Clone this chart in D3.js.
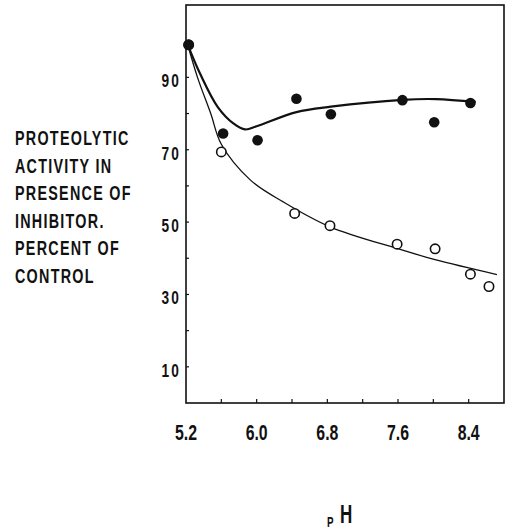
<!DOCTYPE html>
<html>
<head>
<meta charset="utf-8">
<script src="https://cdn.jsdelivr.net/npm/d3@7"></script>
<style>
  body { margin: 0; background: #fff; }
  svg text { font-family: "Liberation Sans", Arial, sans-serif; font-weight: bold; fill: #111; }
</style>
</head>
<body>
<div id="chart"></div>
<script>
// data
const xTicks = [5.2, 6.0, 6.8, 7.6, 8.4];
const yTicks = [10, 30, 50, 70, 90];

const filledPH = [5.23, 5.62, 6.01, 6.45, 6.84, 7.65, 8.01, 8.42];
const filledPct = [99, 74.5, 72.6, 84.1, 79.8, 83.7, 77.6, 82.9];

const openPH = [5.23, 5.6, 6.43, 6.83, 7.59, 8.02, 8.42, 8.63];
const openPct = [99, 69.4, 52.4, 49, 43.9, 42.6, 35.6, 32.2];

// hand drawn fit curves (points along the drawn lines)
const filledCurvePH = [5.22, 5.36, 5.56, 5.74, 5.87, 6.0, 6.45, 6.84, 7.65, 8.03, 8.48];
const filledCurvePct = [99, 91, 81.8, 77.2, 75.6, 76.5, 80.4, 81.9, 83.8, 84, 83.2];
const openCurvePH = [5.22, 5.33, 5.48, 5.6, 5.93, 6.3, 6.83, 7.59, 8.02, 8.72];
const openCurvePct = [99, 90, 80, 71.5, 61.6, 55.6, 48.7, 42.7, 39.6, 35.5];

const titleLines = ["PROTEOLYTIC", "ACTIVITY IN", "PRESENCE OF", "INHIBITOR.", "PERCENT OF", "CONTROL"];

const width = 514, height = 532;
const svg = d3.select("#chart").append("svg")
  .attr("width", width).attr("height", height);

const x = d3.scaleLinear().domain([5.2, 8.8]).range([186, 504]);
const y = d3.scaleLinear().domain([0, 110]).range([403, 5]);

// narrow lettering: squeeze text horizontally
const narrow = (sx) => (d, i, n) => {
  const t = d3.select(n[i]);
  return `translate(${t.attr("data-x")},${t.attr("data-y")}) scale(${sx},1)`;
};

// frame
svg.append("rect")
  .attr("x", x(5.2)).attr("y", y(110))
  .attr("width", x(8.8) - x(5.2)).attr("height", y(0) - y(110))
  .attr("fill", "none").attr("stroke", "#111").attr("stroke-width", 1.6);

// small inward ticks
const xMinor = d3.range(1, 9).map(i => 5.2 + i * 0.4);
svg.append("g").selectAll("line").data(xMinor).join("line")
  .attr("x1", d => x(d)).attr("x2", d => x(d))
  .attr("y1", y(0)).attr("y2", y(0) - 4)
  .attr("stroke", "#111").attr("stroke-width", 1.2);

const yMinor = d3.range(10, 101, 10);
svg.append("g").selectAll("line").data(yMinor).join("line")
  .attr("x1", x(5.2)).attr("x2", x(5.2) + 3)
  .attr("y1", d => y(d)).attr("y2", d => y(d))
  .attr("stroke", "#111").attr("stroke-width", 1.2);

// tick labels
svg.append("g").selectAll("text").data(yTicks).join("text")
  .attr("data-x", 181).attr("data-y", d => y(d) + 10)
  .attr("text-anchor", "end")
  .attr("font-size", 19)
  .attr("letter-spacing", 3)
  .attr("transform", narrow(0.72))
  .text(d => d);

svg.append("g").selectAll("text").data(xTicks).join("text")
  .attr("data-x", d => x(d)).attr("data-y", 440)
  .attr("text-anchor", "middle")
  .attr("font-size", 22)
  .attr("transform", narrow(0.72))
  .text(d => d.toFixed(1));

// y title
svg.append("g").selectAll("text").data(titleLines).join("text")
  .attr("data-x", 15).attr("data-y", (d, i) => 145 + i * 27.6)
  .attr("font-size", 20.5)
  .attr("letter-spacing", 1.8)
  .attr("transform", narrow(0.7))
  .text(d => d);

// x title
svg.append("text").attr("data-x", 327).attr("data-y", 527)
  .attr("font-size", 14).attr("transform", narrow(0.7)).text("P");
svg.append("text").attr("data-x", 340).attr("data-y", 523)
  .attr("font-size", 25).attr("transform", narrow(0.68)).text("H");

// curves
const line = d3.line().x(d => x(d[0])).y(d => y(d[1])).curve(d3.curveCatmullRom.alpha(0.5));
svg.append("path")
  .attr("d", line(d3.zip(openCurvePH, openCurvePct)))
  .attr("fill", "none").attr("stroke", "#111").attr("stroke-width", 1.3);
svg.append("path")
  .attr("d", line(d3.zip(filledCurvePH, filledCurvePct)))
  .attr("fill", "none").attr("stroke", "#111").attr("stroke-width", 2.2);

// points
svg.append("g").selectAll("circle").data(d3.zip(openPH, openPct)).join("circle")
  .attr("cx", d => x(d[0])).attr("cy", d => y(d[1])).attr("r", 4.7)
  .attr("fill", "#fff").attr("stroke", "#111").attr("stroke-width", 1.6);
svg.append("g").selectAll("circle").data(d3.zip(filledPH, filledPct)).join("circle")
  .attr("cx", d => x(d[0])).attr("cy", d => y(d[1])).attr("r", 5.3)
  .attr("fill", "#111");
</script>
</body>
</html>
